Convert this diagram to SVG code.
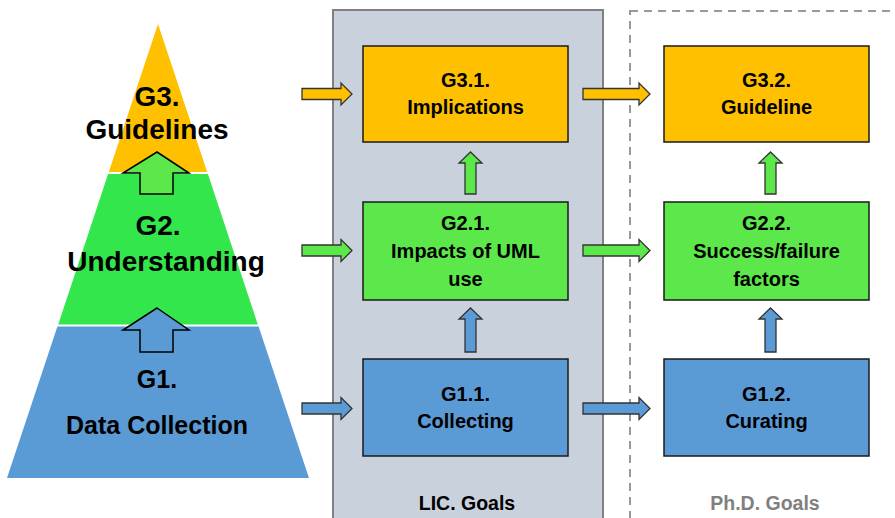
<svg xmlns="http://www.w3.org/2000/svg" width="895" height="518" viewBox="0 0 895 518">
<style>
.t{font-family:"Liberation Sans",Arial,sans-serif;font-weight:bold;fill:#000;text-anchor:middle}
.pt{font-size:28px}
.pc{font-size:25px}
.bt{font-size:20px}
.gl{font-size:19.5px}
.box{stroke:#1a1a1a;stroke-width:1.5}
.or{fill:#ffc000}
.gr{fill:#5ce84b}
.bl{fill:#5b9bd5}
.ar{stroke:#333;stroke-width:1.3}
.pa{stroke:#000;stroke-width:1.5}
</style>
<rect width="895" height="518" fill="#fff"/>
<g id="panel-lic">
<rect x="333" y="10" width="270" height="520" fill="#c9d1dc" stroke="#808080" stroke-width="2"/>
<text class="t gl" x="467" y="510">LIC. Goals</text>
</g>
<g id="panel-phd">
<rect x="630" y="11" width="280" height="520" fill="none" stroke="#999" stroke-width="2" stroke-dasharray="8,6"/>
<text class="t gl" x="765" y="510" style="fill:#808080">Ph.D. Goals</text>
</g>
<g id="pyr-g3">
<polygon class="or" points="158,24 207.2,172 108.8,172"/>
<text class="t pt" x="157" y="106">G3.</text>
<text class="t pt" x="157" y="139">Guidelines</text>
</g>
<g id="pyr-g2">
<polygon points="108.1,174 207.9,174 257.8,324.5 58.2,324.5" fill="#33e64b"/>
<text class="t pt" x="158" y="235">G2.</text>
<text class="t pt" x="166" y="271">Understanding</text>
</g>
<g id="pyr-g1">
<polygon class="bl" points="57.4,326.5 258.6,326.5 309,478 7,478"/>
<text class="t pc" x="157" y="388">G1.</text>
<text class="t pc" x="157" y="434">Data Collection</text>
</g>
<g id="g31">
<rect class="box or" x="363" y="46" width="205" height="96"/>
<text class="t bt" x="465.5" y="87">G3.1.</text>
<text class="t bt" x="465.5" y="114">Implications</text>
</g>
<g id="g21">
<rect class="box gr" x="363" y="202" width="205" height="98"/>
<text class="t bt" x="465.5" y="230">G2.1.</text>
<text class="t bt" x="465.5" y="258">Impacts of UML</text>
<text class="t bt" x="465.5" y="286">use</text>
</g>
<g id="g11">
<rect class="box bl" x="363" y="359" width="205" height="97"/>
<text class="t bt" x="465.5" y="401">G1.1.</text>
<text class="t bt" x="465.5" y="428">Collecting</text>
</g>
<g id="g32">
<rect class="box or" x="664" y="46" width="205" height="96"/>
<text class="t bt" x="766.5" y="87">G3.2.</text>
<text class="t bt" x="766.5" y="114">Guideline</text>
</g>
<g id="g22">
<rect class="box gr" x="664" y="202" width="205" height="98"/>
<text class="t bt" x="766.5" y="230">G2.2.</text>
<text class="t bt" x="766.5" y="258">Success/failure</text>
<text class="t bt" x="766.5" y="286">factors</text>
</g>
<g id="g12">
<rect class="box bl" x="664" y="359" width="205" height="97"/>
<text class="t bt" x="766.5" y="401">G1.2.</text>
<text class="t bt" x="766.5" y="428">Curating</text>
</g>
<g id="connectors">
<path class="pa gr" d="M157,152 L189,173 H173 V194 H140 V173 H123 Z"/>
<path class="pa bl" d="M157,308 L189,330 H173 V352 H140 V330 H123 Z"/>
<path class="ar or" d="M302,88.5 H341 V83 L352,94 L341,105 V99.5 H302 Z"/>
<path class="ar or" d="M583,88.5 H639 V83 L650,94 L639,105 V99.5 H583 Z"/>
<path class="ar gr" d="M302,245 H341 V239.5 L352,250.5 L341,261.5 V256 H302 Z"/>
<path class="ar gr" d="M583,245 H639 V239.5 L650,250.5 L639,261.5 V256 H583 Z"/>
<path class="ar bl" d="M302,403 H341 V397.5 L352,408.5 L341,419.5 V414 H302 Z"/>
<path class="ar bl" d="M583,403 H639 V397.5 L650,408.5 L639,419.5 V414 H583 Z"/>
<path class="ar gr" d="M465,194 V163 H459 L470.5,152 L482,163 H476 V194 Z"/>
<path class="ar bl" d="M465,352 V319 H459 L470.5,308 L482,319 H476 V352 Z"/>
<path class="ar gr" d="M765,194 V163 H759 L770.5,152 L782,163 H776 V194 Z"/>
<path class="ar bl" d="M765,352 V319 H759 L770.5,308 L782,319 H776 V352 Z"/>
</g>
</svg>
